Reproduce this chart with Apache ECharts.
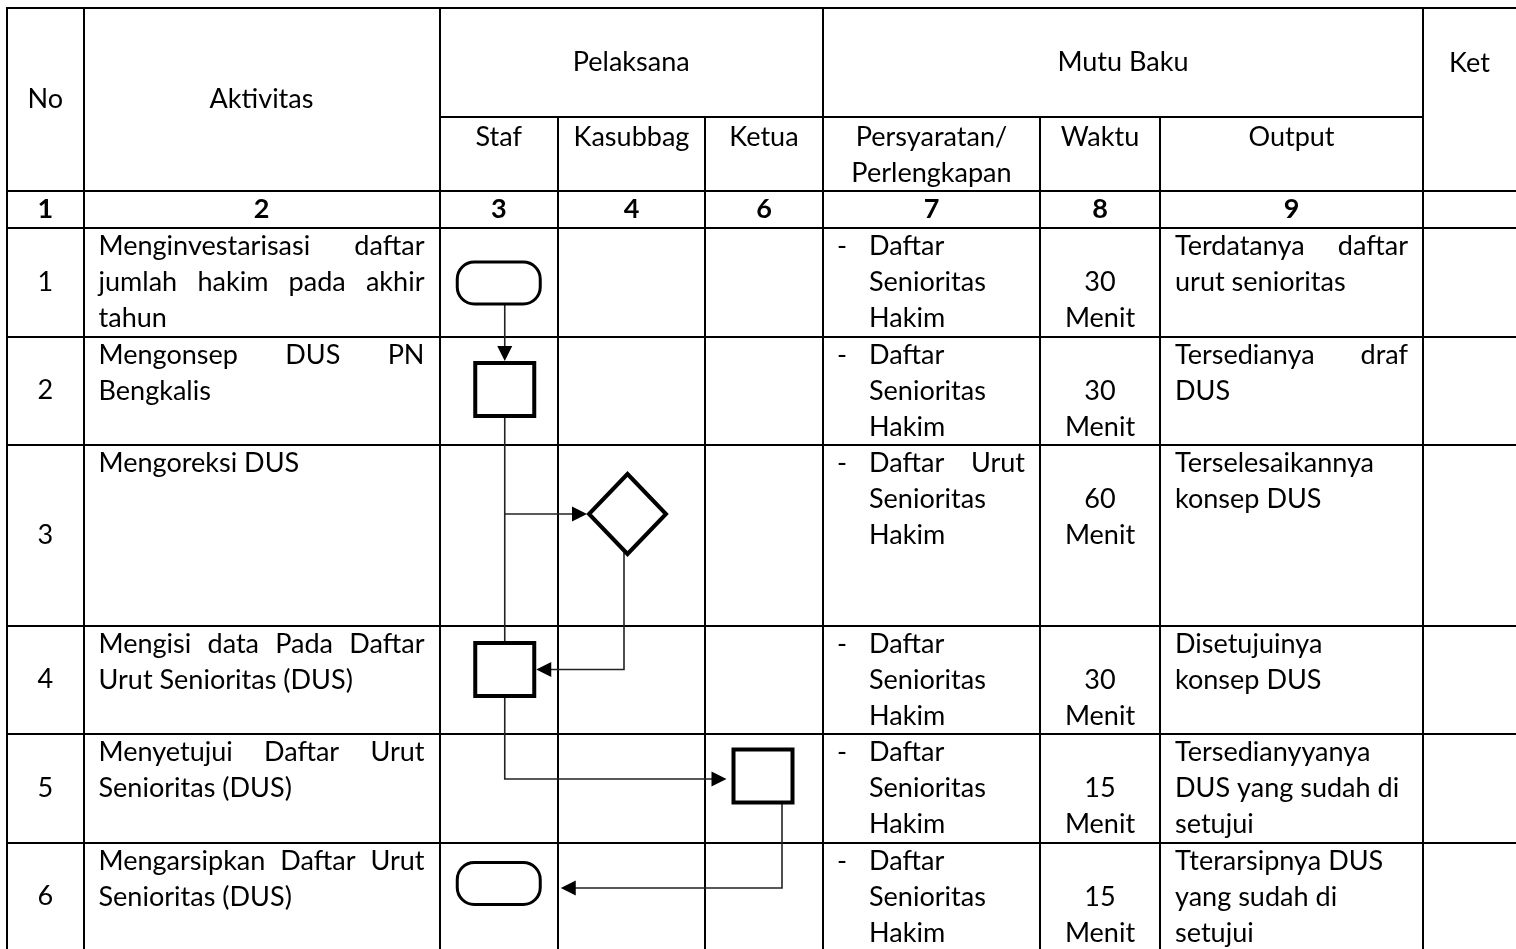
<!DOCTYPE html>
<html>
<head>
<meta charset="utf-8">
<script src="https://cdn.jsdelivr.net/npm/echarts@6/dist/echarts.min.js"></script>
<style>
html, body { margin: 0; padding: 0; background: #ffffff; }
#chart { width: 1516px; height: 949px; }
</style>
</head>
<body>
<div id="chart"></div>
<script>
// ================= DATA =================
const headerTop = ['No', 'Aktivitas', 'Pelaksana', 'Mutu Baku', 'Ket'];
const headerSub = [['Staf'], ['Kasubbag'], ['Ketua'], ['Persyaratan/', 'Perlengkapan'], ['Waktu'], ['Output']];
const columnNumbers = ['1', '2', '3', '4', '6', '7', '8', '9', ''];
const stepNumbers = ['1', '2', '3', '4', '5', '6'];
const activities = [
  ['Menginvestarisasi daftar', 'jumlah hakim pada akhir', 'tahun'],
  ['Mengonsep DUS PN', 'Bengkalis'],
  ['Mengoreksi DUS'],
  ['Mengisi data Pada Daftar', 'Urut Senioritas (DUS)'],
  ['Menyetujui Daftar Urut', 'Senioritas (DUS)'],
  ['Mengarsipkan Daftar Urut', 'Senioritas (DUS)']
];
const requirements = [
  ['Daftar', 'Senioritas', 'Hakim'],
  ['Daftar', 'Senioritas', 'Hakim'],
  ['Daftar Urut', 'Senioritas', 'Hakim'],
  ['Daftar', 'Senioritas', 'Hakim'],
  ['Daftar', 'Senioritas', 'Hakim'],
  ['Daftar', 'Senioritas', 'Hakim']
];
const timeValues = [30, 30, 60, 30, 15, 15];
const timeUnit = 'Menit';
const outputs = [
  ['Terdatanya daftar', 'urut senioritas'],
  ['Tersedianya draf', 'DUS'],
  ['Terselesaikannya', 'konsep DUS'],
  ['Disetujuinya', 'konsep DUS'],
  ['Tersedianyyanya', 'DUS yang sudah di', 'setujui'],
  ['Tterarsipnya DUS', 'yang sudah di', 'setujui']
];
const lanes = ['Staf', 'Kasubbag', 'Ketua'];
const stepActor = ['Staf', 'Staf', 'Kasubbag', 'Staf', 'Ketua', 'Staf'];
const stepSymbol = ['terminator', 'process', 'decision', 'process', 'process', 'terminator'];
const flowFrom = [0, 1, 1, 2, 3, 4];
const flowTo   = [1, 3, 2, 3, 4, 5];
const flowKind = ['down', 'trunk', 'branch', 'downLeft', 'downRight', 'downLeft'];

// ================= LAYOUT / STYLE =================
const W = 1516, H = 949;
const colEdges = [7, 83.5, 439.5, 558, 705, 823, 1040, 1160, 1423, 1516];
const rowEdges = [8, 117, 191, 228, 337, 445, 626, 734, 843, 951];
const LINE = 36.3, FIRST = 18.5;
const FONT_FAMILY = 'Lato';
const FONT_SIZE = 26;
const PAD = 15;
const outputJustify = [true, true, true, true, false, false];
const shapeDx = [0, 6, -4, 6, -1, 0];
const shapeCy = [283, 389.5, 514, 669.5, 776, 883.5];
const symbolSize = { terminator: [83, 42], process: [59, 53], decision: [77, 80] };
const symbolStroke = { terminator: 3, process: 4, decision: 4 };
const flowExitDx = [0, 0, 0, -3.5, 0, 19];
const flowEnterDy = [0, 0, 0, 0, 3, 4.5];
const flowGap = [0, 0, 0, 0, 5, 19];

const measureCtx = document.createElement('canvas').getContext('2d');
function textWidth(t, bold) {
  measureCtx.font = (bold ? 'bold ' : '') + FONT_SIZE + 'px ' + FONT_FAMILY;
  return measureCtx.measureText(t).width;
}
const SX = 117 / textWidth('Pelaksana');

function colCenter(c) { return (colEdges[c] + colEdges[c + 1]) / 2; }
function rowCenter(r) { return (rowEdges[r] + rowEdges[r + 1]) / 2; }

// ---- text items ----
const textItems = [];
function addText(x, y, text, align, bold) { textItems.push({ x, y, text, align, bold: !!bold }); }
function addLine(text, left, right, y, justify) {
  const words = text.split(' ');
  if (!justify || words.length < 2) { addText(left, y, text, 'left'); return; }
  const ws = words.map(w => textWidth(w) * SX);
  const total = ws.reduce((a, b) => a + b, 0);
  const gap = (right - left - total) / (words.length - 1);
  let x = left;
  words.forEach((w, i) => { addText(x, y, w, 'left'); x += ws[i] + gap; });
}
function addParagraph(lines, left, right, top, justify) {
  lines.forEach((ln, i) => addLine(ln, left, right, top + FIRST + i * LINE, justify && i < lines.length - 1));
}

// header
addText(colCenter(0), 100, headerTop[0], 'center');
addText(colCenter(1), 100, headerTop[1], 'center');
addText((colEdges[2] + colEdges[5]) / 2, 63, headerTop[2], 'center');
addText((colEdges[5] + colEdges[8]) / 2, 63, headerTop[3], 'center');
addText(colCenter(8), 64, headerTop[4], 'center');
headerSub.forEach((lines, i) => {
  lines.forEach((t, j) => addText(colCenter(i + 2), rowEdges[1] + 20.5 + j * LINE, t, 'center'));
});
columnNumbers.forEach((t, i) => { if (t) addText(colCenter(i), rowCenter(2), t, 'center', true); });

// body
for (let r = 0; r < stepNumbers.length; r++) {
  const top = rowEdges[3 + r];
  addText(colCenter(0), rowCenter(3 + r), stepNumbers[r], 'center');
  addParagraph(activities[r], colEdges[1] + PAD, colEdges[2] - PAD, top, true);
  addText(colEdges[5] + 19, top + FIRST, '-', 'center');
  addParagraph(requirements[r], colEdges[5] + 46, colEdges[6] - PAD, top, true);
  addText(colCenter(6), top + FIRST + LINE, String(timeValues[r]), 'center');
  addText(colCenter(6), top + FIRST + 2 * LINE, timeUnit, 'center');
  addParagraph(outputs[r], colEdges[7] + PAD, colEdges[8] - PAD, top, outputJustify[r]);
}

// ---- table lines ----
const tableLines = [];
[0, 2, 3, 4, 5, 6, 7, 8].forEach(r => tableLines.push([colEdges[0], rowEdges[r], W, rowEdges[r]]));
tableLines.push([colEdges[2], rowEdges[1], colEdges[8], rowEdges[1]]);
[0, 1, 2, 5, 8].forEach(c => tableLines.push([colEdges[c], rowEdges[0], colEdges[c], H]));
[3, 4, 6, 7].forEach(c => tableLines.push([colEdges[c], rowEdges[1], colEdges[c], H]));

// ---- shapes ----
function laneCenter(name) { return colCenter(2 + lanes.indexOf(name)); }
const shapeData = stepSymbol.map((s, i) => [laneCenter(stepActor[i]) + shapeDx[i], shapeCy[i], symbolSize[s][0], symbolSize[s][1]]);
function box(i) {
  const d = shapeData[i], sw = symbolStroke[stepSymbol[i]];
  return { cx: d[0], cy: d[1], hw: d[2] / 2 + sw / 2, hh: d[3] / 2 + sw / 2 };
}

// ---- connectors (routes derived from shapes) ----
const flowData = flowFrom.map((a, i) => {
  const A = box(a), B = box(flowTo[i]);
  let pts, arrow = true;
  switch (flowKind[i]) {
    case 'down': pts = [[B.cx, A.cy], [B.cx, B.cy - B.hh]]; break;
    case 'trunk': pts = [[A.cx, A.cy], [A.cx, B.cy]]; arrow = false; break;
    case 'branch': pts = [[A.cx, B.cy], [B.cx - B.hw, B.cy]]; break;
    case 'downLeft': {
      const x = A.cx + flowExitDx[i], y = B.cy + flowEnterDy[i];
      pts = [[x, A.cy], [x, y], [B.cx + B.hw + flowGap[i], y]]; break;
    }
    case 'downRight': {
      const x = A.cx + flowExitDx[i], y = B.cy + flowEnterDy[i];
      pts = [[x, A.cy], [x, y], [B.cx - B.hw - flowGap[i], y]]; break;
    }
  }
  return { pts, arrow };
});

// ================= CHART =================
const chart = echarts.init(document.getElementById('chart'), null, { renderer: 'canvas' });
chart.setOption({
  animation: false,
  backgroundColor: '#ffffff',
  grid: { left: 0, right: 0, top: 0, bottom: 0 },
  xAxis: { type: 'value', min: 0, max: W, show: false },
  yAxis: { type: 'value', min: 0, max: H, inverse: true, show: false },
  series: [
    {
      type: 'custom', name: 'table', z: 1, silent: true,
      data: tableLines,
      renderItem: (params, api) => {
        const p1 = api.coord([api.value(0), api.value(1)]);
        const p2 = api.coord([api.value(2), api.value(3)]);
        return {
          type: 'line',
          shape: { x1: Math.round(p1[0]), y1: Math.round(p1[1]), x2: Math.round(p2[0]), y2: Math.round(p2[1]) },
          style: { stroke: '#000000', lineWidth: 2, lineCap: 'square' }
        };
      }
    },
    {
      type: 'custom', name: 'flows', z: 2, silent: true,
      data: flowData.map((f, i) => [i]),
      renderItem: (params, api) => {
        const f = flowData[params.dataIndex];
        const pts = f.pts.map(p => api.coord(p));
        const children = [];
        const n = pts.length;
        const end = pts[n - 1], prev = pts[n - 2];
        const dx = end[0] - prev[0], dy = end[1] - prev[1];
        const len = Math.sqrt(dx * dx + dy * dy) || 1;
        const ux = dx / len, uy = dy / len;
        const L = 15, HW = 7.5;
        const linePts = pts.slice();
        if (f.arrow) linePts[n - 1] = [end[0] - ux * (L - 2), end[1] - uy * (L - 2)];
        children.push({ type: 'polyline', shape: { points: linePts }, style: { stroke: '#222222', lineWidth: 1.6, fill: null } });
        if (f.arrow) {
          const bx = end[0] - ux * L, by = end[1] - uy * L;
          children.push({
            type: 'polygon',
            shape: { points: [[end[0], end[1]], [bx - uy * HW, by + ux * HW], [bx + uy * HW, by - ux * HW]] },
            style: { fill: '#000000' }
          });
        }
        return { type: 'group', children };
      }
    },
    {
      type: 'custom', name: 'shapes', z: 3, silent: true,
      data: shapeData,
      renderItem: (params, api) => {
        const sym = stepSymbol[params.dataIndex];
        const c = api.coord([api.value(0), api.value(1)]);
        const sz = api.size([api.value(2), api.value(3)]);
        const w = Math.abs(sz[0]), h = Math.abs(sz[1]);
        const style = { fill: '#ffffff', stroke: '#000000', lineWidth: symbolStroke[sym], lineJoin: 'miter' };
        if (sym === 'decision') {
          return { type: 'polygon', shape: { points: [[c[0], c[1] - h / 2], [c[0] + w / 2, c[1]], [c[0], c[1] + h / 2], [c[0] - w / 2, c[1]]] }, style };
        }
        return { type: 'rect', shape: { x: c[0] - w / 2, y: c[1] - h / 2, width: w, height: h, r: sym === 'terminator' ? 17 : 0 }, style };
      }
    },
    {
      type: 'custom', name: 'texts', z: 4, silent: true,
      data: textItems.map(t => [t.x, t.y]),
      renderItem: (params, api) => {
        const t = textItems[params.dataIndex];
        const p = api.coord([api.value(0), api.value(1)]);
        return {
          type: 'text', x: p[0], y: p[1], scaleX: SX, scaleY: 1,
          style: {
            text: t.text, fill: '#000000', fontFamily: FONT_FAMILY, fontSize: FONT_SIZE,
            fontWeight: t.bold ? 'bold' : 'normal', align: t.align, verticalAlign: 'middle'
          }
        };
      }
    }
  ]
});
</script>
</body>
</html>
